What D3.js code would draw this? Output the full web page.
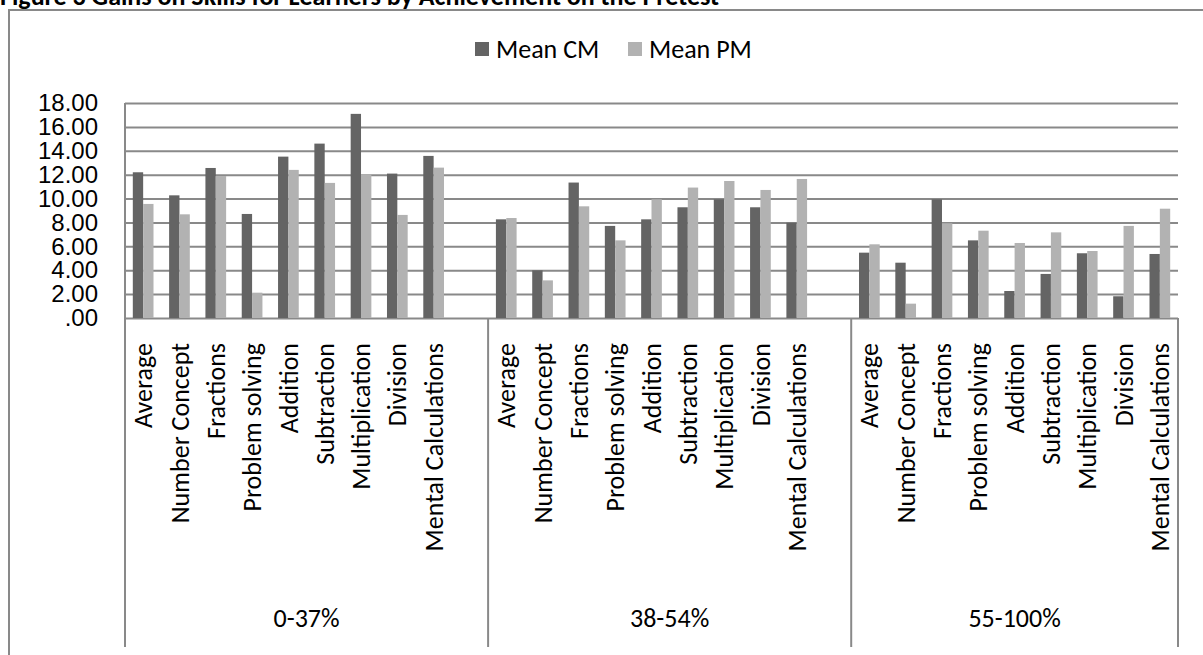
<!DOCTYPE html>
<html>
<head>
<meta charset="utf-8">
<script src="https://cdn.jsdelivr.net/npm/d3@7"></script>
<style>
  html, body { margin: 0; padding: 0; background: #fff; }
  svg { display: block; font-family: Carlito, Lato, "Open Sans", sans-serif; }
</style>
</head>
<body>
<svg id="chart" width="1203" height="655"></svg>
<script>
const title = 'Figure 3 Gains on Skills for Learners by Achievement on the Pretest';
const groups = ['0-37%', '38-54%', '55-100%'];
const categories = ['Average', 'Number Concept', 'Fractions', 'Problem solving', 'Addition',
  'Subtraction', 'Multiplication', 'Division', 'Mental Calculations'];
const seriesNames = ['Mean CM', 'Mean PM'];
const seriesColors = ['#646464', '#b2b2b2'];

// one row per group, values in category order
const meanCM = [
  [12.20, 10.27, 12.56, 8.71, 13.51, 14.60, 17.09, 12.09, 13.57],
  [8.26, 3.99, 11.34, 7.71, 8.26, 9.27, 9.94, 9.27, 7.98],
  [5.47, 4.63, 9.94, 6.50, 2.26, 3.69, 5.42, 1.82, 5.36]
];
const meanPM = [
  [9.55, 8.68, 11.89, 2.12, 12.40, 11.31, 12.03, 8.63, 12.59],
  [8.37, 3.15, 9.35, 6.50, 9.94, 10.92, 11.47, 10.72, 11.64],
  [6.17, 1.20, 7.93, 7.31, 6.28, 7.17, 5.61, 7.71, 9.15]
];
const yTicks = [0, 2, 4, 6, 8, 10, 12, 14, 16, 18];

const svg = d3.select('#chart');
const margin = { top: 103, left: 125, right: 25, baseline: 318, bottom: 647 };
const gridColor = '#898989';
const fontSize = 26;

// slots: every category of a group, plus one empty slot after the first two groups
const slots = [];
groups.forEach((g, gi) => {
  categories.forEach(c => slots.push(gi + '|' + c));
  if (gi < groups.length - 1) slots.push('gap' + gi);
});

const x = d3.scaleBand()
  .domain(slots)
  .range([margin.left, 1203 - margin.right])
  .paddingInner(0.43)
  .paddingOuter(0.215);

const xSeries = d3.scaleBand()
  .domain(seriesNames)
  .range([0, x.bandwidth()]);

const y = d3.scaleLinear()
  .domain([0, 18])
  .range([margin.baseline, margin.top]);

// Title (clipped at the top edge as on the page)
svg.append('text')
  .attr('x', 0)
  .attr('y', 5)
  .attr('font-size', 26)
  .attr('font-weight', 'bold')
  .attr('fill', '#000')
  .text(title);

// Outer frame
svg.append('rect')
  .attr('x', 9).attr('y', 10)
  .attr('width', 1300).attr('height', 700)
  .attr('fill', 'none')
  .attr('stroke', gridColor)
  .attr('stroke-width', 2);

// Grid lines
const yAxis = svg.append('g')
  .attr('transform', `translate(${margin.left},0)`)
  .call(d3.axisLeft(y)
    .tickValues(yTicks)
    .tickSize(0)
    .tickPadding(27)
    .tickFormat(d => d3.format('.2f')(d).replace(/^0\./, '.')));
yAxis.select('.domain').remove();
yAxis.selectAll('.tick text')
  .attr('font-size', 24)
  .attr('font-family', 'inherit')
  .attr('fill', '#000');
yAxis.selectAll('.tick').append('line')
  .attr('x1', 0)
  .attr('x2', x.range()[1] - margin.left)
  .attr('stroke', gridColor)
  .attr('stroke-width', 2);

// Axis line and group dividers
const step = x.step();
const dividers = [x.range()[0]];
groups.forEach((g, gi) => {
  const last = gi < groups.length - 1 ? 'gap' + gi : gi + '|' + categories[categories.length - 1];
  dividers.push(x(last) - x.paddingInner() * step / 2 + step);
});
svg.append('line')
  .attr('x1', margin.left).attr('x2', margin.left)
  .attr('y1', margin.top).attr('y2', margin.bottom)
  .attr('stroke', gridColor).attr('stroke-width', 2);
svg.selectAll('.divider')
  .data(dividers.slice(1))
  .enter().append('line')
  .attr('class', 'divider')
  .attr('x1', d => d).attr('x2', d => d)
  .attr('y1', margin.baseline).attr('y2', margin.bottom)
  .attr('stroke', gridColor).attr('stroke-width', 2);

// Bars
const barData = [];
groups.forEach((g, gi) => {
  categories.forEach((c, ci) => {
    barData.push({ slot: gi + '|' + c, series: seriesNames[0], value: meanCM[gi][ci] });
    barData.push({ slot: gi + '|' + c, series: seriesNames[1], value: meanPM[gi][ci] });
  });
});
svg.selectAll('.bar')
  .data(barData)
  .enter().append('rect')
  .attr('class', 'bar')
  .attr('x', d => x(d.slot) + xSeries(d.series))
  .attr('y', d => y(d.value))
  .attr('width', xSeries.bandwidth())
  .attr('height', d => y(0) - y(d.value))
  .attr('fill', d => seriesColors[seriesNames.indexOf(d.series)]);

// Category labels (rotated)
svg.selectAll('.cat')
  .data(barData.filter(d => d.series === seriesNames[0]))
  .enter().append('text')
  .attr('class', 'cat')
  .attr('transform', d => `translate(${x(d.slot) + x.bandwidth() / 2},343) rotate(-90)`)
  .attr('dy', '0.35em')
  .attr('text-anchor', 'end')
  .attr('font-size', fontSize)
  .attr('fill', '#000')
  .text(d => d.slot.split('|')[1]);

// Group labels
svg.selectAll('.group')
  .data(groups)
  .enter().append('text')
  .attr('class', 'group')
  .attr('x', (d, i) => (dividers[i] + dividers[i + 1]) / 2)
  .attr('y', 627)
  .attr('text-anchor', 'middle')
  .attr('font-size', fontSize)
  .attr('fill', '#000')
  .text(d => d);

// Legend
const legendX = [475, 628];
const legend = svg.selectAll('.legend')
  .data(seriesNames)
  .enter().append('g')
  .attr('class', 'legend')
  .attr('transform', (d, i) => `translate(${legendX[i]},42)`);
legend.append('rect')
  .attr('width', 14).attr('height', 14)
  .attr('fill', (d, i) => seriesColors[i]);
legend.append('text')
  .attr('x', 21)
  .attr('y', 7)
  .attr('dy', '0.35em')
  .attr('font-size', fontSize)
  .attr('fill', '#000')
  .text(d => d);
</script>
</body>
</html>
